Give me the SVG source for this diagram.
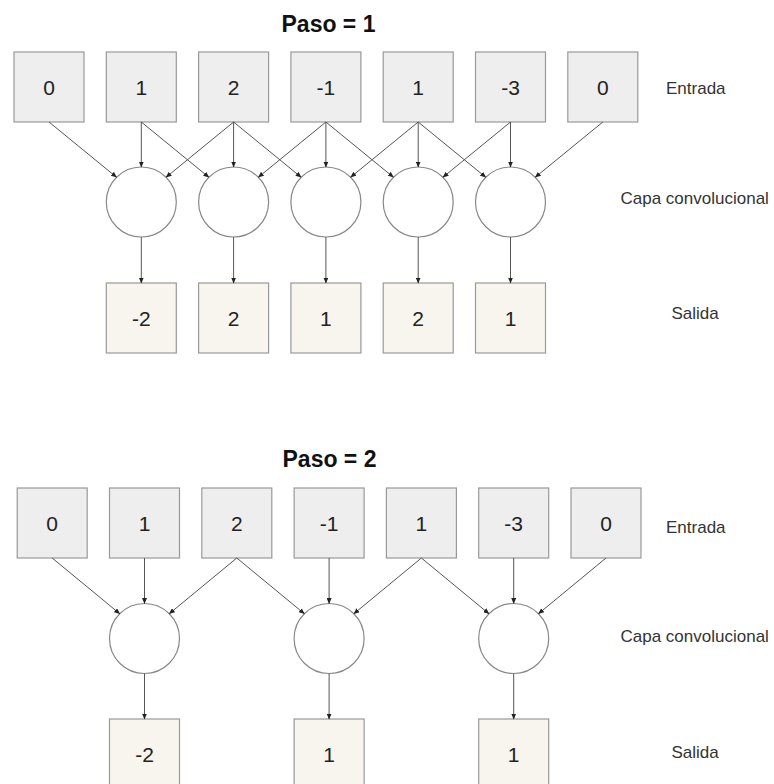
<svg xmlns="http://www.w3.org/2000/svg" width="774" height="784" viewBox="0 0 774 784">
  <style>
    .inp { fill: #eeeeee; stroke: #999999; stroke-width: 1.2; }
    .out { fill: #f7f5ee; stroke: #999999; stroke-width: 1.2; }
    .neuron { fill: #ffffff; stroke: #888888; stroke-width: 1.2; }
    .num { font-family: "Liberation Sans", Arial, sans-serif; font-size: 21px; fill: #222222; text-anchor: middle; }
    .lbl { font-family: "Liberation Sans", Arial, sans-serif; font-size: 17px; fill: #333333; }
    .title { font-family: "Liberation Sans", Arial, sans-serif; font-size: 23px; font-weight: bold; fill: #111111; text-anchor: middle; }
    .edge { stroke: #555555; stroke-width: 1; fill: none; marker-end: url(#tip); }
  </style>
  <defs>
    <marker id="tip" markerUnits="userSpaceOnUse" markerWidth="6" markerHeight="5" refX="5.5" refY="2.5" orient="auto">
      <path d="M0,0 L6,2.5 L0,5 Z" fill="#222222"/>
    </marker>
  </defs>
  <rect width="774" height="784" fill="#ffffff"/>

  <!-- ===== Stride 1 ===== -->
  <text class="title" x="328.5" y="32">Paso = 1</text>

  <g id="s1-in0"><rect class="inp" x="14" y="52" width="70" height="70"/><text class="num" x="49" y="94.5">0</text></g>
  <g id="s1-in1"><rect class="inp" x="106.3" y="52" width="70" height="70"/><text class="num" x="141.3" y="94.5">1</text></g>
  <g id="s1-in2"><rect class="inp" x="198.6" y="52" width="70" height="70"/><text class="num" x="233.6" y="94.5">2</text></g>
  <g id="s1-in3"><rect class="inp" x="290.9" y="52" width="70" height="70"/><text class="num" x="325.9" y="94.5">-1</text></g>
  <g id="s1-in4"><rect class="inp" x="383.2" y="52" width="70" height="70"/><text class="num" x="418.2" y="94.5">1</text></g>
  <g id="s1-in5"><rect class="inp" x="475.5" y="52" width="70" height="70"/><text class="num" x="510.5" y="94.5">-3</text></g>
  <g id="s1-in6"><rect class="inp" x="567.8" y="52" width="70" height="70"/><text class="num" x="602.8" y="94.5">0</text></g>

  <g id="s1-conv1"><circle class="neuron" cx="141.3" cy="202" r="35"/></g>
  <g id="s1-conv2"><circle class="neuron" cx="233.6" cy="202" r="35"/></g>
  <g id="s1-conv3"><circle class="neuron" cx="325.9" cy="202" r="35"/></g>
  <g id="s1-conv4"><circle class="neuron" cx="418.2" cy="202" r="35"/></g>
  <g id="s1-conv5"><circle class="neuron" cx="510.5" cy="202" r="35"/></g>

  <g id="s1-out1"><rect class="out" x="106.3" y="283" width="70" height="70"/><text class="num" x="141.3" y="325.5">-2</text></g>
  <g id="s1-out2"><rect class="out" x="198.6" y="283" width="70" height="70"/><text class="num" x="233.6" y="325.5">2</text></g>
  <g id="s1-out3"><rect class="out" x="290.9" y="283" width="70" height="70"/><text class="num" x="325.9" y="325.5">1</text></g>
  <g id="s1-out4"><rect class="out" x="383.2" y="283" width="70" height="70"/><text class="num" x="418.2" y="325.5">2</text></g>
  <g id="s1-out5"><rect class="out" x="475.5" y="283" width="70" height="70"/><text class="num" x="510.5" y="325.5">1</text></g>

  <g id="s1-labels">
    <text class="lbl" x="666" y="93.5">Entrada</text>
    <text class="lbl" x="620.5" y="203.5">Capa convolucional</text>
    <text class="lbl" x="671.5" y="319">Salida</text>
  </g>

  <g id="s1-edges">
    <line class="edge" x1="49" y1="122" x2="116.55" y2="177.25"/>
    <line class="edge" x1="141.3" y1="122" x2="141.3" y2="167"/>
    <line class="edge" x1="233.6" y1="122" x2="166.05" y2="177.25"/>

    <line class="edge" x1="141.3" y1="122" x2="208.85" y2="177.25"/>
    <line class="edge" x1="233.6" y1="122" x2="233.6" y2="167"/>
    <line class="edge" x1="325.9" y1="122" x2="258.35" y2="177.25"/>

    <line class="edge" x1="233.6" y1="122" x2="301.15" y2="177.25"/>
    <line class="edge" x1="325.9" y1="122" x2="325.9" y2="167"/>
    <line class="edge" x1="418.2" y1="122" x2="350.65" y2="177.25"/>

    <line class="edge" x1="325.9" y1="122" x2="393.45" y2="177.25"/>
    <line class="edge" x1="418.2" y1="122" x2="418.2" y2="167"/>
    <line class="edge" x1="510.5" y1="122" x2="442.95" y2="177.25"/>

    <line class="edge" x1="418.2" y1="122" x2="485.75" y2="177.25"/>
    <line class="edge" x1="510.5" y1="122" x2="510.5" y2="167"/>
    <line class="edge" x1="602.8" y1="122" x2="535.25" y2="177.25"/>

    <line class="edge" x1="141.3" y1="237" x2="141.3" y2="283"/>
    <line class="edge" x1="233.6" y1="237" x2="233.6" y2="283"/>
    <line class="edge" x1="325.9" y1="237" x2="325.9" y2="283"/>
    <line class="edge" x1="418.2" y1="237" x2="418.2" y2="283"/>
    <line class="edge" x1="510.5" y1="237" x2="510.5" y2="283"/>
  </g>

  <!-- ===== Stride 2 ===== -->
  <text class="title" x="329.5" y="467">Paso = 2</text>

  <g id="s2-in0"><rect class="inp" x="17.2" y="488" width="70" height="70"/><text class="num" x="52.2" y="530.5">0</text></g>
  <g id="s2-in1"><rect class="inp" x="109.5" y="488" width="70" height="70"/><text class="num" x="144.5" y="530.5">1</text></g>
  <g id="s2-in2"><rect class="inp" x="201.8" y="488" width="70" height="70"/><text class="num" x="236.8" y="530.5">2</text></g>
  <g id="s2-in3"><rect class="inp" x="294.1" y="488" width="70" height="70"/><text class="num" x="329.1" y="530.5">-1</text></g>
  <g id="s2-in4"><rect class="inp" x="386.4" y="488" width="70" height="70"/><text class="num" x="421.4" y="530.5">1</text></g>
  <g id="s2-in5"><rect class="inp" x="478.7" y="488" width="70" height="70"/><text class="num" x="513.7" y="530.5">-3</text></g>
  <g id="s2-in6"><rect class="inp" x="571" y="488" width="70" height="70"/><text class="num" x="606" y="530.5">0</text></g>

  <g id="s2-conv1"><circle class="neuron" cx="144.5" cy="638.5" r="35"/></g>
  <g id="s2-conv2"><circle class="neuron" cx="329.1" cy="638.5" r="35"/></g>
  <g id="s2-conv3"><circle class="neuron" cx="513.7" cy="638.5" r="35"/></g>

  <g id="s2-out1"><rect class="out" x="109.5" y="719" width="70" height="70"/><text class="num" x="144.5" y="761.5">-2</text></g>
  <g id="s2-out2"><rect class="out" x="294.1" y="719" width="70" height="70"/><text class="num" x="329.1" y="761.5">1</text></g>
  <g id="s2-out3"><rect class="out" x="478.7" y="719" width="70" height="70"/><text class="num" x="513.7" y="761.5">1</text></g>

  <g id="s2-labels">
    <text class="lbl" x="666" y="532.5">Entrada</text>
    <text class="lbl" x="620.5" y="642">Capa convolucional</text>
    <text class="lbl" x="671.5" y="758">Salida</text>
  </g>

  <g id="s2-edges">
    <line class="edge" x1="52.2" y1="558" x2="119.75" y2="613.75"/>
    <line class="edge" x1="144.5" y1="558" x2="144.5" y2="603.5"/>
    <line class="edge" x1="236.8" y1="558" x2="169.25" y2="613.75"/>

    <line class="edge" x1="236.8" y1="558" x2="304.35" y2="613.75"/>
    <line class="edge" x1="329.1" y1="558" x2="329.1" y2="603.5"/>
    <line class="edge" x1="421.4" y1="558" x2="353.85" y2="613.75"/>

    <line class="edge" x1="421.4" y1="558" x2="488.95" y2="613.75"/>
    <line class="edge" x1="513.7" y1="558" x2="513.7" y2="603.5"/>
    <line class="edge" x1="606" y1="558" x2="538.45" y2="613.75"/>

    <line class="edge" x1="144.5" y1="673.5" x2="144.5" y2="719"/>
    <line class="edge" x1="329.1" y1="673.5" x2="329.1" y2="719"/>
    <line class="edge" x1="513.7" y1="673.5" x2="513.7" y2="719"/>
  </g>
</svg>
